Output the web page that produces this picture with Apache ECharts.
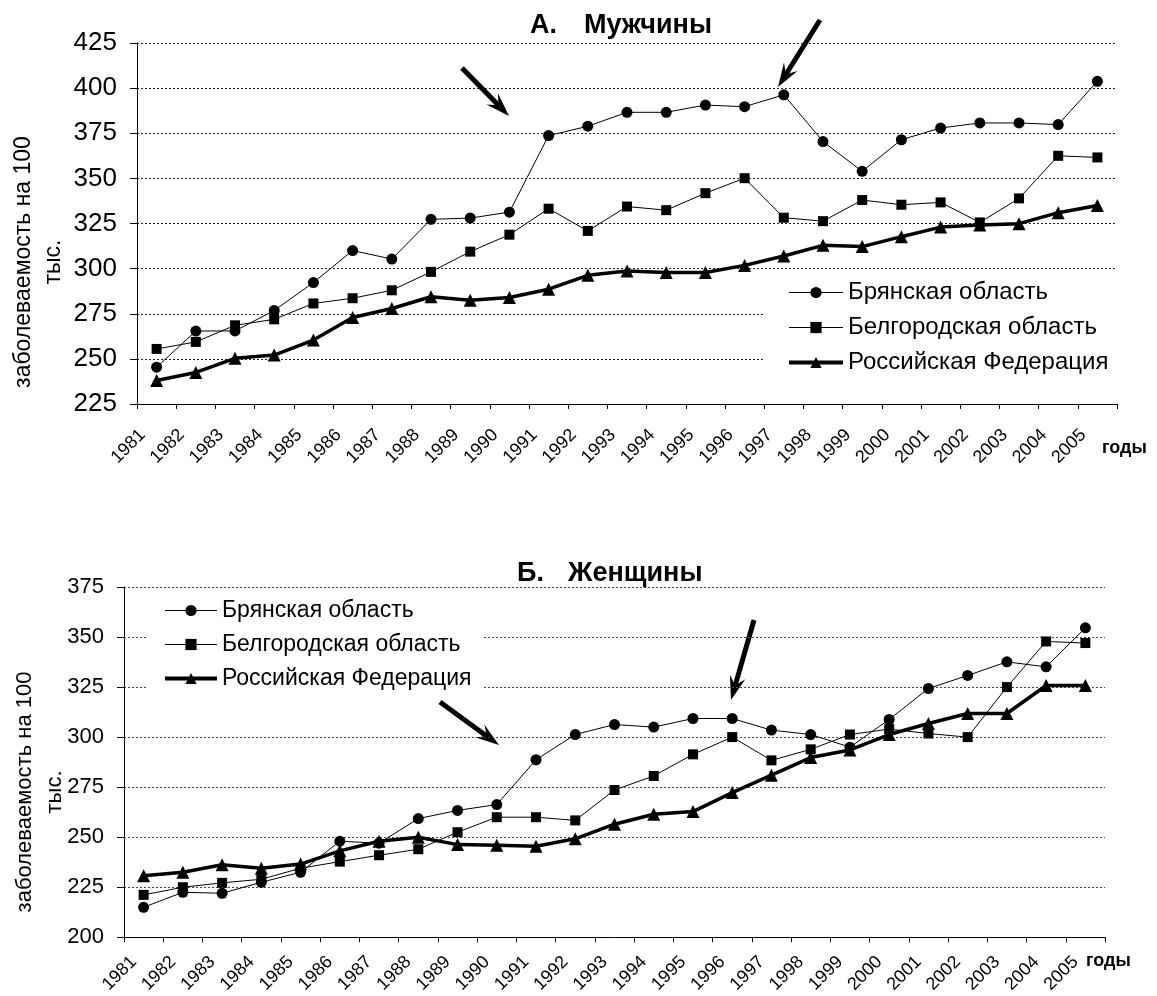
<!DOCTYPE html>
<html>
<head>
<meta charset="utf-8">
<title>Заболеваемость: мужчины и женщины</title>
<script src="https://cdn.jsdelivr.net/npm/echarts@6/dist/echarts.min.js"></script>
<style>
  html, body { margin: 0; background: #fff; }
  #chart { width: 1157px; height: 996px; }
</style>
</head>
<body>
<div id="chart"></div>
<script>
// годы
const years = ['1981', '1982', '1983', '1984', '1985', '1986', '1987', '1988', '1989', '1990',
  '1991', '1992', '1993', '1994', '1995', '1996', '1997', '1998', '1999', '2000',
  '2001', '2002', '2003', '2004', '2005'];

const seriesNames = ['Брянская область', 'Белгородская область', 'Российская Федерация'];

// А. Мужчины
const menBryansk = [245.4, 265.4, 265.5, 276.8, 292.3, 310, 305.3, 327.3, 328, 331.3,
  373.7, 378.9, 386.6, 386.6, 390.6, 389.7, 396.3, 370.4, 353.9, 371.4,
  377.9, 380.7, 380.7, 379.8, 403.8];
const menBelgorod = [255.5, 259.4, 268.6, 271.9, 280.7, 283.6, 288, 298.2, 309.4, 318.8,
  333.2, 320.9, 334.4, 332.4, 341.8, 350.1, 328.2, 326.3, 338, 335.4,
  336.7, 325.6, 338.9, 362.5, 361.6];
const menRF = [238, 242.5, 250.3, 252.1, 260.4, 272.9, 277.9, 284.4, 282.5, 284,
  288.6, 296.3, 298.7, 297.8, 297.8, 301.8, 307, 312.9, 312.2, 317.7,
  323, 324.2, 324.9, 331, 335];

// Б. Женщины
const womenBryansk = [215, 222.5, 222, 227.5, 232.5, 248, 247, 259.3, 263.4, 266.3,
  288.7, 301.3, 306.3, 305, 309.3, 309.3, 303.5, 301.3, 295, 308.8,
  324.3, 330.8, 337.6, 335.1, 354.6];
const womenBelgorod = [221.2, 225, 227.2, 229, 234.5, 237.8, 241, 244, 252.5, 260,
  260, 258.4, 273.6, 280.6, 291.4, 300, 288.4, 293.9, 301.3, 304,
  301.8, 300, 325, 347.8, 347];
const womenRF = [230.8, 232.5, 236.2, 234.5, 236.6, 243.2, 248, 250, 246.3, 246,
  245.5, 249.2, 256.5, 261.5, 262.8, 272.3, 281, 289.8, 293.6, 301.3,
  306.8, 311.8, 311.8, 325.8, 325.8];

const FONT = '"Liberation Sans", Arial, sans-serif';

const chart = echarts.init(document.getElementById('chart'));

function lineSeries(name, data, symbol, size, width, idx) {
  return {
    name: name,
    type: 'line',
    xAxisIndex: idx,
    yAxisIndex: idx,
    data: data,
    symbol: symbol,
    symbolSize: size,
    lineStyle: { color: '#000', width: width },
    itemStyle: { color: '#000' },
    emphasis: { disabled: true }
  };
}

function xAxis(idx, margin, pad) {
  return {
    type: 'category',
    gridIndex: idx,
    data: years,
    boundaryGap: true,
    axisLine: { show: true, lineStyle: { color: '#000', width: 1 } },
    axisTick: { show: true, interval: 0, length: 5, lineStyle: { color: '#000' } },
    axisLabel: {
      interval: 0, rotate: 45, margin: margin, padding: [0, pad, 0, 0],
      fontSize: 18, color: '#000', fontFamily: FONT
    },
    splitLine: { show: false }
  };
}

function yAxis(idx, min, max, fontSize, gridColor) {
  return {
    type: 'value',
    gridIndex: idx,
    min: min,
    max: max,
    interval: 25,
    axisLine: { show: true, lineStyle: { color: '#000', width: 1 } },
    axisTick: { show: true, length: 7, lineStyle: { color: '#000' } },
    axisLabel: { fontSize: fontSize, margin: 20, color: '#000', fontFamily: FONT },
    splitLine: { show: true, lineStyle: { color: gridColor, width: 1, type: [2, 2] } }
  };
}

function legend(left, top, padding, itemWidth, itemGap, fontSize) {
  return {
    orient: 'vertical',
    left: left,
    top: top,
    padding: padding,
    itemWidth: itemWidth,
    itemHeight: 14,
    itemGap: itemGap,
    backgroundColor: '#fff',
    selectedMode: false,
    textStyle: { fontSize: fontSize, lineHeight: 25, color: '#000', fontFamily: FONT },
    data: [
      { name: seriesNames[0], lineStyle: { width: 1 } },
      { name: seriesNames[1], lineStyle: { width: 1 } },
      { name: seriesNames[2], lineStyle: { width: 4 } }
    ]
  };
}

// стрелки-указатели
function arrow(x1, y1, x2, y2) {
  const dx = x2 - x1, dy = y2 - y1, len = Math.hypot(dx, dy);
  const ux = dx / len, uy = dy / len, nx = -uy, ny = ux;
  const hl = 24, hw = 8, notch = 15;
  const bx = x2 - ux * hl, by = y2 - uy * hl;
  const mx = x2 - ux * notch, my = y2 - uy * notch;
  return [
    { type: 'line', silent: true, shape: { x1: x1, y1: y1, x2: mx, y2: my },
      style: { stroke: '#000', lineWidth: 5 } },
    { type: 'polygon', silent: true,
      shape: { points: [[x2, y2], [bx + nx * hw, by + ny * hw], [mx, my], [bx - nx * hw, by - ny * hw]] },
      style: { fill: '#000' } }
  ];
}

function text(str, x, y, size, bold, align, rotation) {
  return {
    type: 'text', x: x, y: y, rotation: rotation || 0, silent: true,
    style: {
      text: str, fontSize: size, fontFamily: FONT, fontWeight: bold ? 'bold' : 'normal',
      fill: '#000', align: align, textAlign: align, verticalAlign: 'middle',
      textVerticalAlign: 'middle', lineHeight: 30
    }
  };
}

const option = {
  animation: false,
  backgroundColor: '#fff',
  grid: [
    { left: 137, top: 43, width: 980, height: 361 },
    { left: 124, top: 587, width: 981, height: 353 }
  ],
  xAxis: [xAxis(0, 14, 20), xAxis(1, 12, 14)],
  yAxis: [yAxis(0, 225, 425, 26, '#222'), yAxis(1, 200, 375, 22, '#444')],
  legend: [
    legend(763, 273, [7, 12, 7, 24], 54, 10, 24),
    legend(148, 590, [8, 12, 8, 15], 52, 9, 23)
  ],
  series: [
    lineSeries(seriesNames[0], menBryansk, 'circle', 11, 1, 0),
    lineSeries(seriesNames[1], menBelgorod, 'rect', 10, 1, 0),
    lineSeries(seriesNames[2], menRF, 'triangle', 13, 3.5, 0),
    lineSeries(seriesNames[0], womenBryansk, 'circle', 11, 1, 1),
    lineSeries(seriesNames[1], womenBelgorod, 'rect', 10, 1, 1),
    lineSeries(seriesNames[2], womenRF, 'triangle', 13, 3.5, 1)
  ],
  graphic: [
    text('А.', 530, 26, 27, true, 'left'),
    text('Мужчины', 584, 26, 27, true, 'left'),
    text('Б.', 517, 574, 27, true, 'left'),
    text('Женщины', 568, 574, 27, true, 'left'),
    text('заболеваемость на 100\nтыс.', 39, 262, 23, false, 'center', Math.PI / 2),
    text('заболеваемость на 100\nтыс.', 40, 792, 22, false, 'center', Math.PI / 2),
    text('годы', 1102, 448, 18, true, 'left'),
    text('годы', 1086, 961, 18, true, 'left')
  ].concat(
    arrow(462, 68, 509, 116),
    arrow(820, 20, 778, 87),
    arrow(440, 702, 499, 745),
    arrow(754, 620, 731, 700)
  )
};

chart.setOption(option);
</script>
</body>
</html>
